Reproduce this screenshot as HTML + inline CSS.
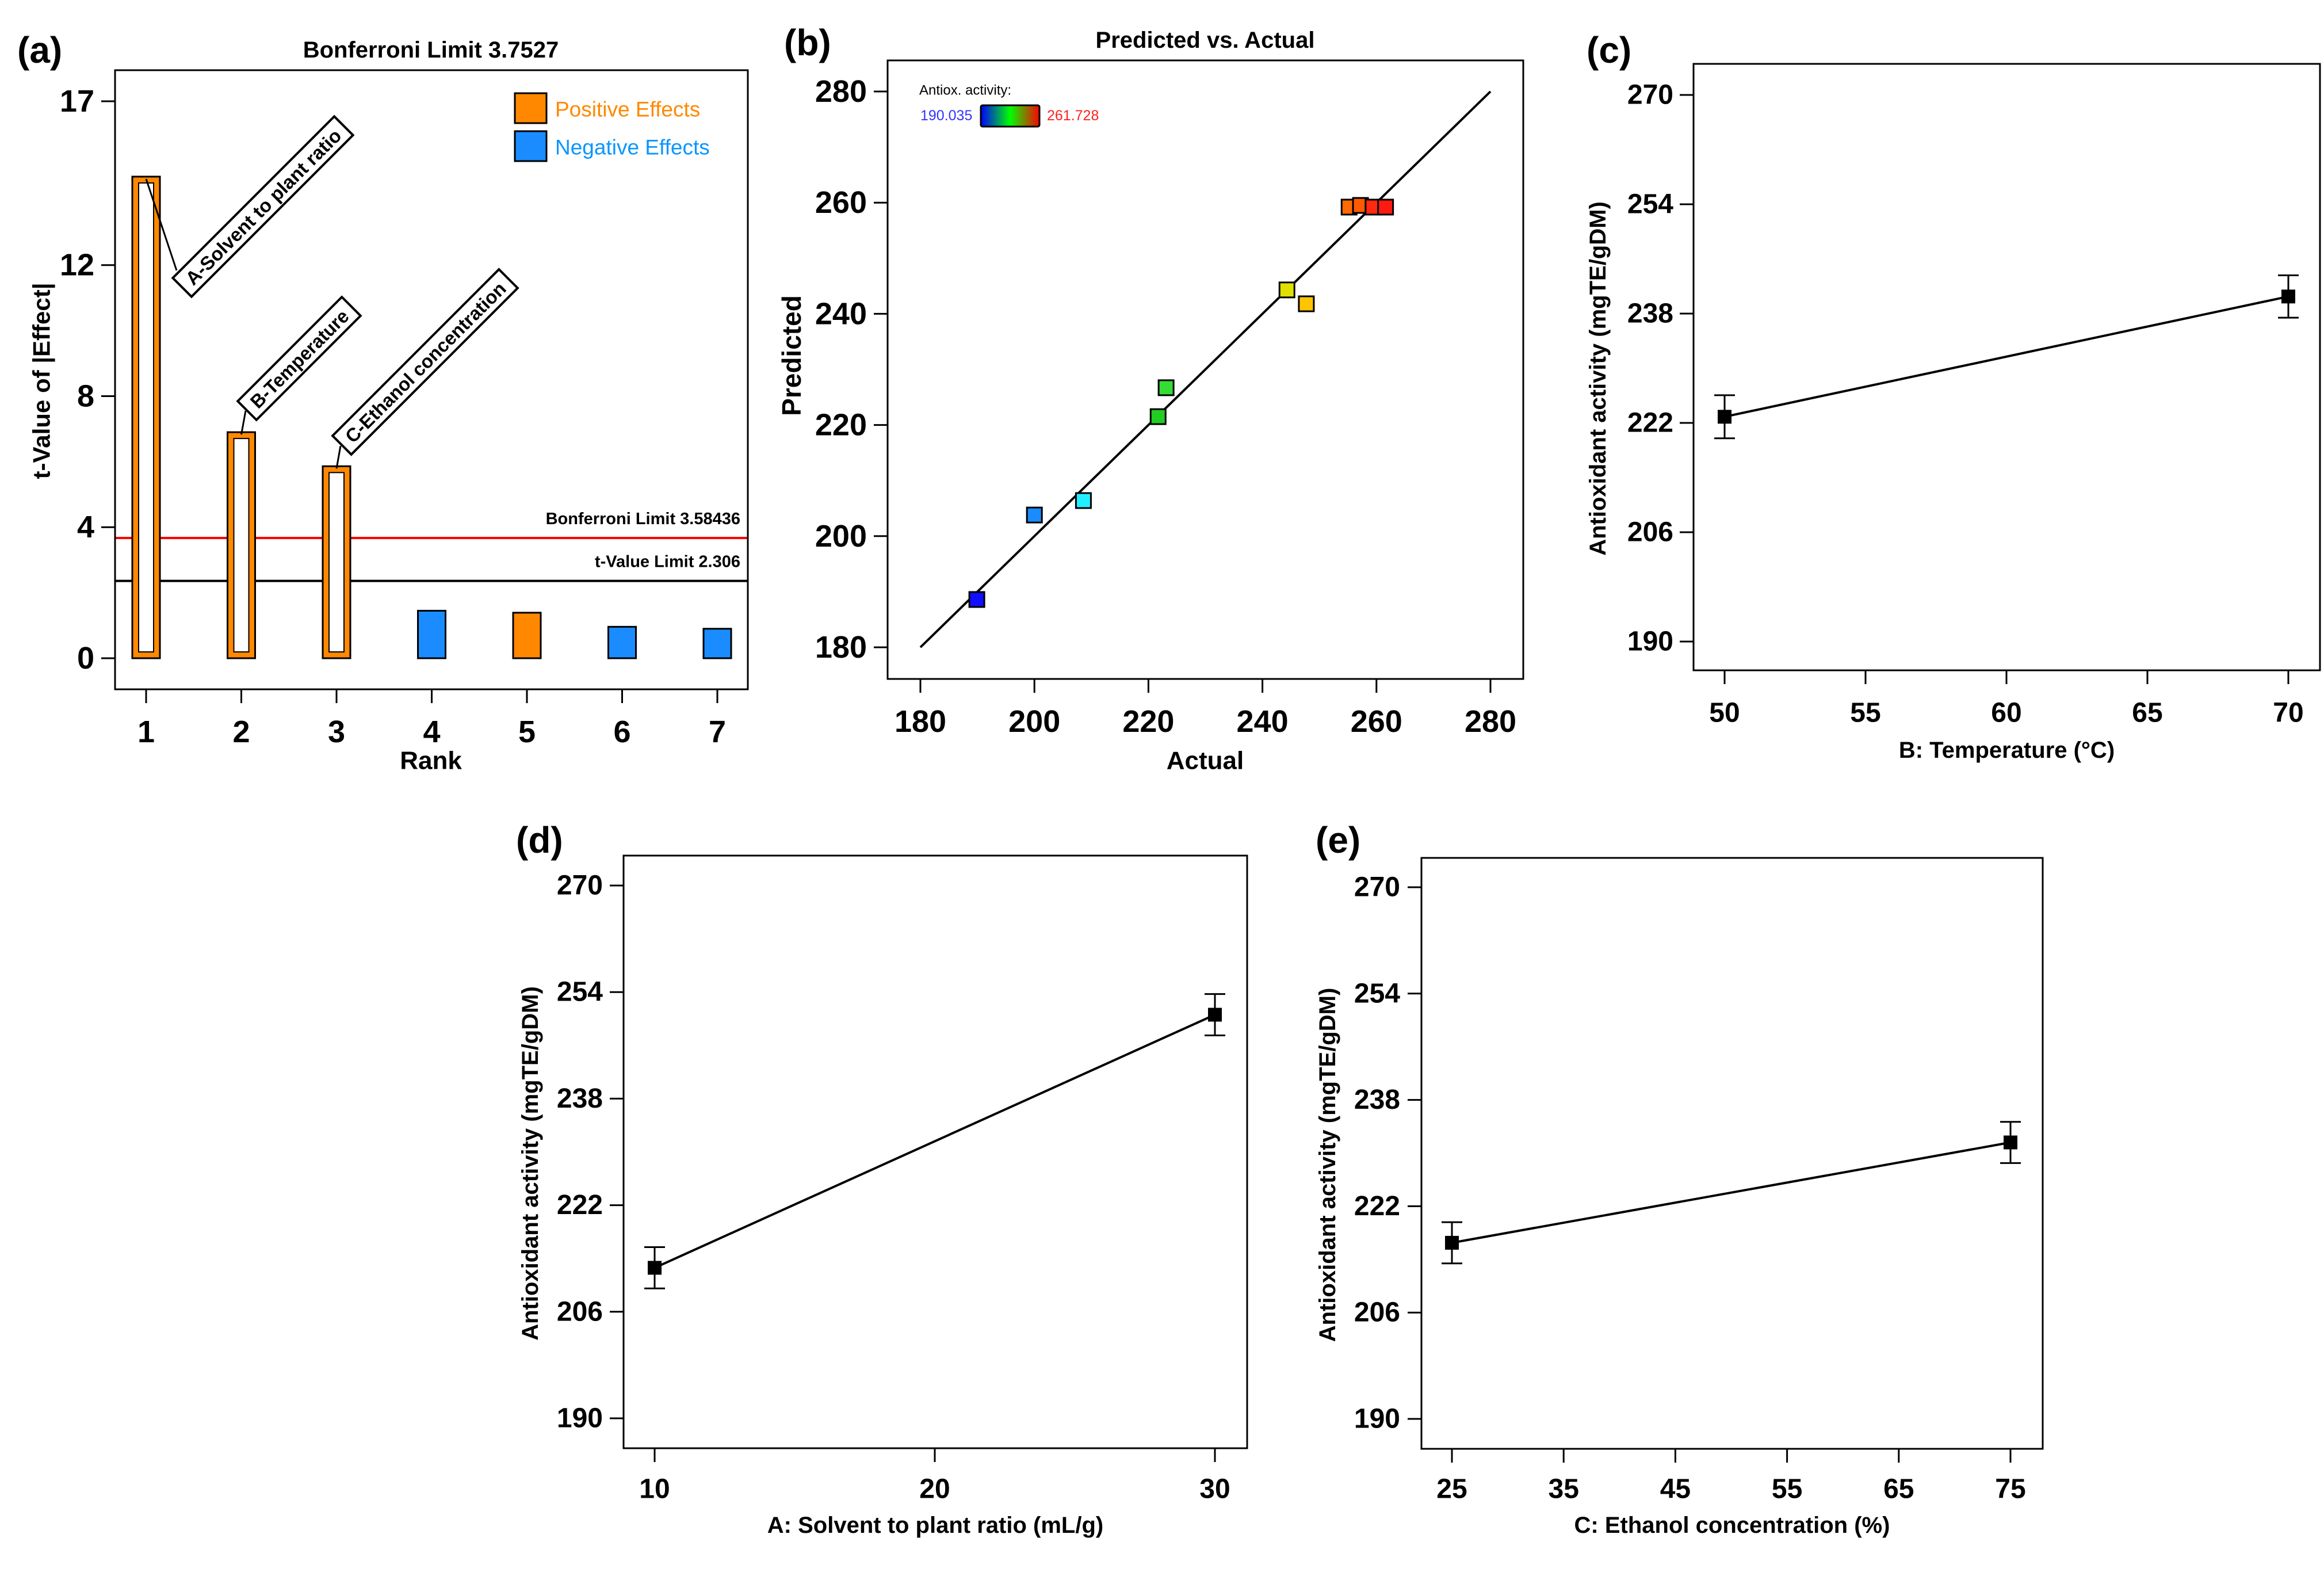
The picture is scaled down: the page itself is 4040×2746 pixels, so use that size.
<!DOCTYPE html>
<html><head><meta charset="utf-8"><style>
html,body{margin:0;padding:0;background:#fff}
svg{display:block;font-family:"Liberation Sans",sans-serif;font-weight:bold}
</style></head><body>
<svg id="fig" width="4040" height="2746" viewBox="0 0 4040 2746" xmlns="http://www.w3.org/2000/svg"></svg>
<script>
// ---- Panel (a) data ----
const ranks = [1,2,3,4,5,6,7];
const tValues = [14.7,6.9,5.86,1.45,1.39,0.96,0.9];
const effectSign = ['pos','pos','pos','neg','pos','neg','neg'];
const aYTicks = [0,4,8,12,17];
const bonferroniValue = 3.67;
const tLimitValue = 2.36;
// ---- Panel (b) data ----
const actualVals = [189.9,200.0,208.6,221.7,223.1,244.3,247.7,255.2,257.2,259.4,261.6];
const predictedVals = [188.6,203.8,206.4,221.5,226.7,244.3,241.8,259.2,259.5,259.2,259.2];
const pointColors = ['#1010ff','#1a8cff','#22eeff','#22cc22','#33dd33','#e0e000','#ffc400','#ff6a00','#ff5a00','#ff2a10','#ff1a10'];
const bTicks = [180,200,220,240,260,280];
// ---- Panels (c)(d)(e) data ----
const cX = [50,70], cY = [222.9,240.5], cErr = [3.15,3.1], cXTicks=[50,55,60,65,70];
const dX = [10,30], dY = [212.6,250.6], dErr = [3.1,3.1], dXTicks=[10,20,30];
const eX = [25,75], eY = [216.5,231.6], eErr = [3.1,3.1], eXTicks=[25,35,45,55,65,75];
const effYTicks = [190,206,222,238,254,270];

const NS='http://www.w3.org/2000/svg';
const svg=document.getElementById('fig');
function mk(tag,attrs,parent){const e=document.createElementNS(NS,tag);for(const k in attrs)e.setAttribute(k,attrs[k]);(parent||svg).appendChild(e);return e;}
function txt(s,x,y,size,anchor,parent,extra){const e=mk('text',Object.assign({x:x,y:y,'font-size':size,'text-anchor':anchor||'middle','dominant-baseline':'central'},extra||{}),parent);e.textContent=s;return e;}
function lin(d0,d1,r0,r1){return v=>r0+(v-d0)/(d1-d0)*(r1-r0);}

// ================= Panel (a) =================
(function(){
  const g=mk('g',{});
  
  
  const L=200,R=1300,T=122,B=1198;
  const x=lin(1,7,254,1247), y=lin(0,17,1144,176);
  const pl=txt('(a)',30,87,64,'start',g);  
  const tt=txt('Bonferroni Limit 3.7527',749,87,40,'middle',g);  
  const rl=mk('line',{x1:L,x2:R,y1:y(bonferroniValue),y2:y(bonferroniValue),stroke:'#ff0000','stroke-width':4},g);
   
  const bl=mk('line',{x1:L,x2:R,y1:y(tLimitValue),y2:y(tLimitValue),stroke:'#000','stroke-width':4},g);
   
  const t1=txt('Bonferroni Limit 3.58436',1287,y(bonferroniValue)-33,29,'end',g);  
  const t2=txt('t-Value Limit 2.306',1287,y(tLimitValue)-33,29,'end',g);  
  ranks.forEach((r,i)=>{
    const cx=x(r), w=48, top=y(tValues[i]), bot=y(0);
    const col=effectSign[i]==='pos'?'#ff8800':'#1a8cff';
    const b=mk('rect',{x:cx-w/2,y:top,width:w,height:bot-top,fill:col,stroke:'#000','stroke-width':3},g);
     
    if(i<3){
      const inr=mk('rect',{x:cx-w/2+11,y:top+11,width:w-22,height:bot-top-22,fill:'#fff',stroke:'#000','stroke-width':2},g);
       
    }
  });
  const ann=[['A-Solvent to plant ratio',457,359,397,[307,470]],['B-Temperature',520,623,256,[427,714]],['C-Ethanol concentration',739,629,409,[592,775]]];
  ann.forEach((a,i)=>{
    const cx=x(ranks[i]), top=y(tValues[i]);
    const ln=mk('line',{x1:cx,y1:top+4,x2:a[4][0],y2:a[4][1],stroke:'#000','stroke-width':3},g);
     
    const ag=mk('g',{transform:`translate(${a[1]},${a[2]}) rotate(-45)`},g);
     
    mk('rect',{x:-a[3]/2,y:-23,width:a[3],height:46,fill:'#fff',stroke:'#000','stroke-width':4},ag);
    txt(a[0],0,1,33,'middle',ag,{textLength:a[3]-30,lengthAdjust:'spacingAndGlyphs'});
  });
  const fr=mk('rect',{x:L,y:T,width:R-L,height:B-T,fill:'none',stroke:'#000','stroke-width':3},g);
   
  aYTicks.forEach(v=>{mk('line',{x1:L-24,x2:L,y1:y(v),y2:y(v),stroke:'#000','stroke-width':3},g);
    const t=txt(String(v),164,y(v),54,'end',g);  });
  ranks.forEach(r=>{mk('line',{x1:x(r),x2:x(r),y1:B,y2:B+24,stroke:'#000','stroke-width':3},g);
    const t=txt(String(r),x(r),1272,54,'middle',g);  });
  const xl=txt('Rank',749,1322,44,'middle',g);  
  const yl=txt('t-Value of |Effect|',72,662,42,'middle',g,{transform:'rotate(-90 72 662)'});  
  const lg=mk('g',{},g);  
  mk('rect',{x:895,y:162,width:55,height:52,fill:'#ff8800',stroke:'#000','stroke-width':3},lg);
  mk('rect',{x:895,y:228,width:55,height:52,fill:'#1a8cff',stroke:'#000','stroke-width':3},lg);
  txt('Positive Effects',965,190,37,'start',lg,{fill:'#ff8800','font-weight':'normal'});
  txt('Negative Effects',965,256,37,'start',lg,{fill:'#0a96ff','font-weight':'normal'});
})();

// ================= Panel (b) =================
(function(){
  const g=mk('g',{});
  
  
  const L=1543,R=2648,T=105,B=1180;
  const x=lin(180,280,1600,2591), y=lin(180,280,1125,159);
  const pl=txt('(b)',1363,74,64,'start',g);  
  const tt=txt('Predicted vs. Actual',2095,70,40,'middle',g);  
  const fl=mk('line',{x1:x(180),y1:y(180),x2:x(280),y2:y(280),stroke:'#000','stroke-width':4},g);
   
  actualVals.forEach((a,i)=>{
    const p=mk('rect',{x:x(a)-13,y:y(predictedVals[i])-13,width:26,height:26,fill:pointColors[i],stroke:'#000','stroke-width':3},g);
     
  });
  const fr=mk('rect',{x:L,y:T,width:R-L,height:B-T,fill:'none',stroke:'#000','stroke-width':3},g);
   
  bTicks.forEach(v=>{
    mk('line',{x1:L-24,x2:L,y1:y(v),y2:y(v),stroke:'#000','stroke-width':3},g);
    const ty=txt(String(v),1507,y(v),54,'end',g);  
    mk('line',{x1:x(v),x2:x(v),y1:B,y2:B+24,stroke:'#000','stroke-width':3},g);
    const tx=txt(String(v),x(v),1254,54,'middle',g);  
  });
  const xl=txt('Actual',2095,1322,44,'middle',g);  
  const yl=txt('Predicted',1376,618,46,'middle',g,{transform:'rotate(-90 1376 618)'});  
  const lg=mk('g',{},g);  
  const defs=mk('defs',{},lg);
  const gr=mk('linearGradient',{id:'cg',x1:0,x2:1,y1:0,y2:0},defs);
  mk('stop',{offset:'0','stop-color':'#0000ff'},gr);mk('stop',{offset:'0.5','stop-color':'#00ff00'},gr);mk('stop',{offset:'1','stop-color':'#ff0000'},gr);
  txt('Antiox. activity:',1598,157,24,'start',lg,{'font-weight':'normal'});
  mk('rect',{x:1705,y:183,width:102,height:37,fill:'url(#cg)',stroke:'#000','stroke-width':3,rx:3},lg);
  txt('190.035',1600,201,25,'start',lg,{fill:'#3333ff','font-weight':'normal'});
  txt('261.728',1820,201,25,'start',lg,{fill:'#ff2222','font-weight':'normal'});
})();

// ================= Effect plots =================
function effectPlot(o){
  const g=mk('g',{});
  
  
  const x=lin(o.xd[0],o.xd[1],o.xr[0],o.xr[1]), y=lin(190,270,o.y190,o.y270);
  const pl=txt(o.label,o.lx,o.ly,64,'start',g);  
  const ln=mk('line',{x1:x(o.X[0]),y1:y(o.Y[0]),x2:x(o.X[1]),y2:y(o.Y[1]),stroke:'#000','stroke-width':4},g);
   
  o.X.forEach((xv,i)=>{
    const cx=x(xv), cy=y(o.Y[i]), hi=y(o.Y[i]+o.E[i]), lo=y(o.Y[i]-o.E[i]);
    const eb=mk('path',{d:`M${cx},${hi}V${lo}M${cx-18},${hi}H${cx+18}M${cx-18},${lo}H${cx+18}`,stroke:'#000','stroke-width':3,fill:'none'},g);
     
    const m=mk('rect',{x:cx-12,y:cy-12,width:24,height:24,fill:'#000'},g);
     
  });
  const fr=mk('rect',{x:o.L,y:o.T,width:o.R-o.L,height:o.B-o.T,fill:'none',stroke:'#000','stroke-width':3},g);
   
  effYTicks.forEach(v=>{mk('line',{x1:o.L-24,x2:o.L,y1:y(v),y2:y(v),stroke:'#000','stroke-width':3},g);
    const t=txt(String(v),o.yr,y(v),48,'end',g);  });
  o.xt.forEach(v=>{mk('line',{x1:x(v),x2:x(v),y1:o.B,y2:o.B+24,stroke:'#000','stroke-width':3},g);
    const t=txt(String(v),x(v),o.xty,48,'middle',g);  });
  const xl=txt(o.xlabel,(o.L+o.R)/2,o.xly,40,'middle',g);  
  const cy=(o.T+o.B)/2+20;
  const yl=txt('Antioxidant activity (mgTE/gDM)',o.ylx,cy,40,'middle',g,{transform:`rotate(-90 ${o.ylx} ${cy})`});  
}
effectPlot({name:'temperature-effect-chart',label:'(c)',lx:2758,ly:87,L:2944,R:4033,T:111,B:1165,xd:[50,70],xr:[2998,3978],y190:1115,y270:165,X:cX,Y:cY,E:cErr,xt:cXTicks,yr:2909,xty:1239,xlabel:'B: Temperature (°C)',xly:1304,ylx:2778});
effectPlot({name:'solvent-ratio-effect-chart',label:'(d)',lx:897,ly:1460,L:1084,R:2168,T:1487,B:2517,xd:[10,30],xr:[1138,2112],y190:2465,y270:1539,X:dX,Y:dY,E:dErr,xt:dXTicks,yr:1048,xty:2588,xlabel:'A: Solvent to plant ratio (mL/g)',xly:2651,ylx:922});
effectPlot({name:'ethanol-effect-chart',label:'(e)',lx:2287,ly:1460,L:2471,R:3551,T:1491,B:2518,xd:[25,75],xr:[2524,3495],y190:2466,y270:1542,X:eX,Y:eY,E:eErr,xt:eXTicks,yr:2434,xty:2588,xlabel:'C: Ethanol concentration (%)',xly:2651,ylx:2308});
</script>
</body></html>
